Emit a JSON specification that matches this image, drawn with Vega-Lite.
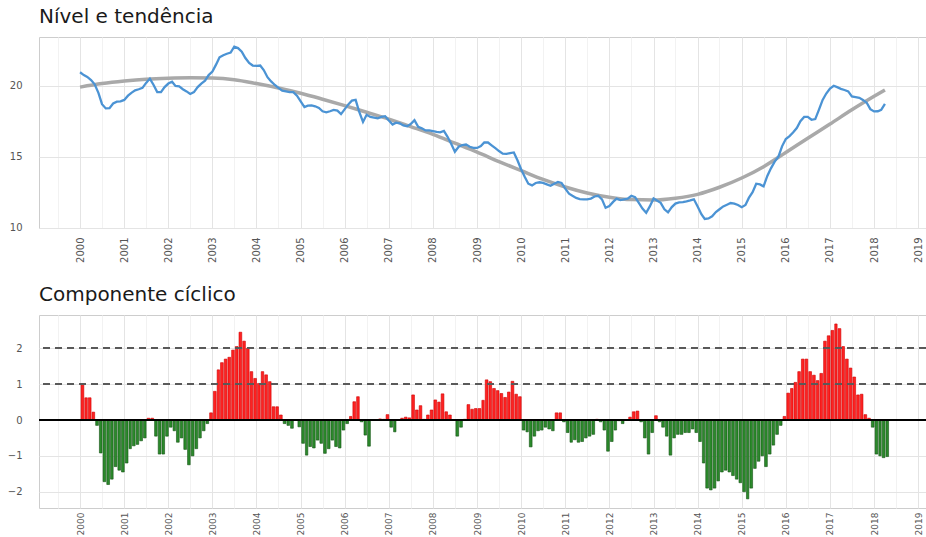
{
  "$schema": "https://vega.github.io/schema/vega-lite/v6.json",
  "background": "white",
  "autosize": {"type": "pad"},
  "padding": {"left": 6, "top": 6, "right": 0, "bottom": 0},
  "spacing": 21,
  "config": {
    "view": {"stroke": "#cdcdcd", "strokeWidth": 1},
    "font": "DejaVu Sans",
    "axis": {"domain": false, "ticks": false, "labelFont": "DejaVu Sans", "labelFontSize": 10, "labelColor": "#555555", "title": null, "gridColor": "#e4e4e4", "gridWidth": 1},
    "title": {"font": "DejaVu Sans", "fontSize": 20, "fontWeight": "normal", "color": "#1a1a1a", "anchor": "start", "frame": "group", "baseline": "alphabetic", "offset": 10}
  },
  "data": {"name": "serie", "format": {"parse": {"d": "date:'%Y-%m'"}}},
  "datasets": {
    "serie": [
      {"d":"2000-01","nivel":20.95,"ciclo":1.0},{"d":"2000-02","nivel":20.75,"ciclo":0.62},{"d":"2000-03","nivel":20.62,"ciclo":0.62},{"d":"2000-04","nivel":20.4,"ciclo":0.22},{"d":"2000-05","nivel":20.1,"ciclo":-0.15},{"d":"2000-06","nivel":19.5,"ciclo":-0.92},{"d":"2000-07","nivel":18.7,"ciclo":-1.72},{"d":"2000-08","nivel":18.4,"ciclo":-1.8},{"d":"2000-09","nivel":18.42,"ciclo":-1.65},{"d":"2000-10","nivel":18.75,"ciclo":-1.3},{"d":"2000-11","nivel":18.88,"ciclo":-1.4},{"d":"2000-12","nivel":18.9,"ciclo":-1.45},
      {"d":"2001-01","nivel":19.0,"ciclo":-1.2},{"d":"2001-02","nivel":19.3,"ciclo":-0.8},{"d":"2001-03","nivel":19.5,"ciclo":-0.72},{"d":"2001-04","nivel":19.67,"ciclo":-0.68},{"d":"2001-05","nivel":19.75,"ciclo":-0.58},{"d":"2001-06","nivel":19.85,"ciclo":-0.5},{"d":"2001-07","nivel":20.2,"ciclo":0.05},{"d":"2001-08","nivel":20.5,"ciclo":0.05},{"d":"2001-09","nivel":20.05,"ciclo":-0.45},{"d":"2001-10","nivel":19.55,"ciclo":-0.95},{"d":"2001-11","nivel":19.55,"ciclo":-0.95},{"d":"2001-12","nivel":19.9,"ciclo":-0.45},
      {"d":"2002-01","nivel":20.15,"ciclo":-0.2},{"d":"2002-02","nivel":20.28,"ciclo":-0.3},{"d":"2002-03","nivel":19.98,"ciclo":-0.62},{"d":"2002-04","nivel":19.95,"ciclo":-0.5},{"d":"2002-05","nivel":19.75,"ciclo":-0.82},{"d":"2002-06","nivel":19.6,"ciclo":-1.25},{"d":"2002-07","nivel":19.42,"ciclo":-1.0},{"d":"2002-08","nivel":19.55,"ciclo":-0.8},{"d":"2002-09","nivel":19.9,"ciclo":-0.5},{"d":"2002-10","nivel":20.15,"ciclo":-0.3},{"d":"2002-11","nivel":20.35,"ciclo":-0.1},{"d":"2002-12","nivel":20.75,"ciclo":0.2},
      {"d":"2003-01","nivel":21.0,"ciclo":0.8},{"d":"2003-02","nivel":21.5,"ciclo":1.4},{"d":"2003-03","nivel":22.0,"ciclo":1.6},{"d":"2003-04","nivel":22.15,"ciclo":1.7},{"d":"2003-05","nivel":22.25,"ciclo":1.75},{"d":"2003-06","nivel":22.33,"ciclo":1.95},{"d":"2003-07","nivel":22.75,"ciclo":2.05},{"d":"2003-08","nivel":22.65,"ciclo":2.45},{"d":"2003-09","nivel":22.4,"ciclo":2.2},{"d":"2003-10","nivel":21.95,"ciclo":2.0},{"d":"2003-11","nivel":21.6,"ciclo":1.35},{"d":"2003-12","nivel":21.42,"ciclo":1.16},
      {"d":"2004-01","nivel":21.4,"ciclo":1.02},{"d":"2004-02","nivel":21.42,"ciclo":1.35},{"d":"2004-03","nivel":21.1,"ciclo":1.26},{"d":"2004-04","nivel":20.6,"ciclo":1.07},{"d":"2004-05","nivel":20.3,"ciclo":0.37},{"d":"2004-06","nivel":20.05,"ciclo":0.37},{"d":"2004-07","nivel":19.85,"ciclo":0.14},{"d":"2004-08","nivel":19.65,"ciclo":-0.1},{"d":"2004-09","nivel":19.6,"ciclo":-0.15},{"d":"2004-10","nivel":19.55,"ciclo":-0.23},{"d":"2004-11","nivel":19.55,"ciclo":0.0},{"d":"2004-12","nivel":19.3,"ciclo":-0.19},
      {"d":"2005-01","nivel":18.9,"ciclo":-0.65},{"d":"2005-02","nivel":18.5,"ciclo":-0.98},{"d":"2005-03","nivel":18.6,"ciclo":-0.74},{"d":"2005-04","nivel":18.62,"ciclo":-0.78},{"d":"2005-05","nivel":18.55,"ciclo":-0.56},{"d":"2005-06","nivel":18.43,"ciclo":-0.65},{"d":"2005-07","nivel":18.2,"ciclo":-0.93},{"d":"2005-08","nivel":18.13,"ciclo":-0.8},{"d":"2005-09","nivel":18.2,"ciclo":-0.56},{"d":"2005-10","nivel":18.3,"ciclo":-0.74},{"d":"2005-11","nivel":18.25,"ciclo":-0.78},{"d":"2005-12","nivel":18.0,"ciclo":-0.28},
      {"d":"2006-01","nivel":18.35,"ciclo":-0.1},{"d":"2006-02","nivel":18.7,"ciclo":0.1},{"d":"2006-03","nivel":18.95,"ciclo":0.51},{"d":"2006-04","nivel":19.0,"ciclo":0.65},{"d":"2006-05","nivel":18.15,"ciclo":-0.05},{"d":"2006-06","nivel":17.45,"ciclo":-0.42},{"d":"2006-07","nivel":17.95,"ciclo":-0.73},{"d":"2006-08","nivel":17.8,"ciclo":0.0},{"d":"2006-09","nivel":17.75,"ciclo":0.0},{"d":"2006-10","nivel":17.7,"ciclo":0.03},{"d":"2006-11","nivel":17.8,"ciclo":0.02},{"d":"2006-12","nivel":17.85,"ciclo":0.15},
      {"d":"2007-01","nivel":17.55,"ciclo":-0.2},{"d":"2007-02","nivel":17.27,"ciclo":-0.33},{"d":"2007-03","nivel":17.4,"ciclo":0.0},{"d":"2007-04","nivel":17.35,"ciclo":0.05},{"d":"2007-05","nivel":17.2,"ciclo":0.08},{"d":"2007-06","nivel":17.15,"ciclo":0.06},{"d":"2007-07","nivel":17.3,"ciclo":0.7},{"d":"2007-08","nivel":17.57,"ciclo":0.28},{"d":"2007-09","nivel":17.1,"ciclo":0.4},{"d":"2007-10","nivel":17.0,"ciclo":0.02},{"d":"2007-11","nivel":16.85,"ciclo":0.14},{"d":"2007-12","nivel":16.85,"ciclo":0.28},
      {"d":"2008-01","nivel":16.8,"ciclo":0.56},{"d":"2008-02","nivel":16.75,"ciclo":0.5},{"d":"2008-03","nivel":16.72,"ciclo":0.73},{"d":"2008-04","nivel":16.82,"ciclo":0.23},{"d":"2008-05","nivel":16.4,"ciclo":0.14},{"d":"2008-06","nivel":15.9,"ciclo":0.0},{"d":"2008-07","nivel":15.35,"ciclo":-0.45},{"d":"2008-08","nivel":15.7,"ciclo":-0.2},{"d":"2008-09","nivel":15.82,"ciclo":0.02},{"d":"2008-10","nivel":15.86,"ciclo":0.43},{"d":"2008-11","nivel":15.7,"ciclo":0.3},{"d":"2008-12","nivel":15.62,"ciclo":0.32},
      {"d":"2009-01","nivel":15.62,"ciclo":0.32},{"d":"2009-02","nivel":15.75,"ciclo":0.55},{"d":"2009-03","nivel":16.0,"ciclo":1.12},{"d":"2009-04","nivel":16.0,"ciclo":1.07},{"d":"2009-05","nivel":15.8,"ciclo":0.88},{"d":"2009-06","nivel":15.6,"ciclo":0.82},{"d":"2009-07","nivel":15.4,"ciclo":0.74},{"d":"2009-08","nivel":15.22,"ciclo":0.63},{"d":"2009-09","nivel":15.2,"ciclo":0.78},{"d":"2009-10","nivel":15.25,"ciclo":1.08},{"d":"2009-11","nivel":15.3,"ciclo":0.72},{"d":"2009-12","nivel":14.75,"ciclo":0.65},
      {"d":"2010-01","nivel":14.1,"ciclo":-0.28},{"d":"2010-02","nivel":13.55,"ciclo":-0.33},{"d":"2010-03","nivel":13.1,"ciclo":-0.75},{"d":"2010-04","nivel":12.98,"ciclo":-0.45},{"d":"2010-05","nivel":13.15,"ciclo":-0.3},{"d":"2010-06","nivel":13.2,"ciclo":-0.28},{"d":"2010-07","nivel":13.15,"ciclo":-0.2},{"d":"2010-08","nivel":13.05,"ciclo":-0.25},{"d":"2010-09","nivel":12.95,"ciclo":-0.3},{"d":"2010-10","nivel":13.1,"ciclo":0.2},{"d":"2010-11","nivel":13.22,"ciclo":0.2},{"d":"2010-12","nivel":13.15,"ciclo":-0.05},
      {"d":"2011-01","nivel":12.75,"ciclo":-0.35},{"d":"2011-02","nivel":12.4,"ciclo":-0.62},{"d":"2011-03","nivel":12.25,"ciclo":-0.55},{"d":"2011-04","nivel":12.1,"ciclo":-0.62},{"d":"2011-05","nivel":12.02,"ciclo":-0.6},{"d":"2011-06","nivel":12.0,"ciclo":-0.5},{"d":"2011-07","nivel":12.0,"ciclo":-0.45},{"d":"2011-08","nivel":12.05,"ciclo":-0.4},{"d":"2011-09","nivel":12.2,"ciclo":0.02},{"d":"2011-10","nivel":12.25,"ciclo":-0.05},{"d":"2011-11","nivel":12.0,"ciclo":-0.28},{"d":"2011-12","nivel":11.4,"ciclo":-0.87},
      {"d":"2012-01","nivel":11.52,"ciclo":-0.6},{"d":"2012-02","nivel":11.82,"ciclo":-0.28},{"d":"2012-03","nivel":12.05,"ciclo":-0.02},{"d":"2012-04","nivel":11.95,"ciclo":-0.1},{"d":"2012-05","nivel":12.0,"ciclo":0.0},{"d":"2012-06","nivel":12.05,"ciclo":0.08},{"d":"2012-07","nivel":12.25,"ciclo":0.23},{"d":"2012-08","nivel":12.15,"ciclo":0.25},{"d":"2012-09","nivel":11.75,"ciclo":-0.05},{"d":"2012-10","nivel":11.35,"ciclo":-0.5},{"d":"2012-11","nivel":11.05,"ciclo":-0.95},{"d":"2012-12","nivel":11.5,"ciclo":-0.35},
      {"d":"2013-01","nivel":12.06,"ciclo":0.12},{"d":"2013-02","nivel":11.9,"ciclo":-0.05},{"d":"2013-03","nivel":11.75,"ciclo":-0.2},{"d":"2013-04","nivel":11.3,"ciclo":-0.45},{"d":"2013-05","nivel":11.08,"ciclo":-0.98},{"d":"2013-06","nivel":11.45,"ciclo":-0.5},{"d":"2013-07","nivel":11.7,"ciclo":-0.4},{"d":"2013-08","nivel":11.78,"ciclo":-0.4},{"d":"2013-09","nivel":11.8,"ciclo":-0.35},{"d":"2013-10","nivel":11.85,"ciclo":-0.35},{"d":"2013-11","nivel":11.92,"ciclo":-0.25},{"d":"2013-12","nivel":12.0,"ciclo":-0.35},
      {"d":"2014-01","nivel":11.5,"ciclo":-0.6},{"d":"2014-02","nivel":10.95,"ciclo":-1.2},{"d":"2014-03","nivel":10.62,"ciclo":-1.9},{"d":"2014-04","nivel":10.65,"ciclo":-1.95},{"d":"2014-05","nivel":10.8,"ciclo":-1.9},{"d":"2014-06","nivel":11.1,"ciclo":-1.7},{"d":"2014-07","nivel":11.3,"ciclo":-1.45},{"d":"2014-08","nivel":11.5,"ciclo":-1.4},{"d":"2014-09","nivel":11.62,"ciclo":-1.45},{"d":"2014-10","nivel":11.74,"ciclo":-1.55},{"d":"2014-11","nivel":11.7,"ciclo":-1.65},{"d":"2014-12","nivel":11.6,"ciclo":-1.75},
      {"d":"2015-01","nivel":11.45,"ciclo":-2.0},{"d":"2015-02","nivel":11.6,"ciclo":-2.2},{"d":"2015-03","nivel":12.1,"ciclo":-1.9},{"d":"2015-04","nivel":12.5,"ciclo":-1.35},{"d":"2015-05","nivel":13.1,"ciclo":-1.15},{"d":"2015-06","nivel":13.05,"ciclo":-1.0},{"d":"2015-07","nivel":12.91,"ciclo":-1.3},{"d":"2015-08","nivel":13.65,"ciclo":-0.95},{"d":"2015-09","nivel":14.2,"ciclo":-0.7},{"d":"2015-10","nivel":14.65,"ciclo":-0.4},{"d":"2015-11","nivel":15.0,"ciclo":-0.15},{"d":"2015-12","nivel":15.73,"ciclo":0.1},
      {"d":"2016-01","nivel":16.25,"ciclo":0.75},{"d":"2016-02","nivel":16.45,"ciclo":0.88},{"d":"2016-03","nivel":16.7,"ciclo":1.05},{"d":"2016-04","nivel":17.02,"ciclo":1.35},{"d":"2016-05","nivel":17.5,"ciclo":1.7},{"d":"2016-06","nivel":17.8,"ciclo":1.7},{"d":"2016-07","nivel":17.8,"ciclo":1.35},{"d":"2016-08","nivel":17.6,"ciclo":1.25},{"d":"2016-09","nivel":17.65,"ciclo":1.1},{"d":"2016-10","nivel":18.3,"ciclo":1.3},{"d":"2016-11","nivel":19.0,"ciclo":2.2},{"d":"2016-12","nivel":19.45,"ciclo":2.35},
      {"d":"2017-01","nivel":19.8,"ciclo":2.5},{"d":"2017-02","nivel":20.0,"ciclo":2.68},{"d":"2017-03","nivel":19.9,"ciclo":2.55},{"d":"2017-04","nivel":19.78,"ciclo":2.05},{"d":"2017-05","nivel":19.7,"ciclo":1.7},{"d":"2017-06","nivel":19.6,"ciclo":1.45},{"d":"2017-07","nivel":19.25,"ciclo":1.2},{"d":"2017-08","nivel":19.2,"ciclo":0.7},{"d":"2017-09","nivel":19.15,"ciclo":0.72},{"d":"2017-10","nivel":19.0,"ciclo":0.15},{"d":"2017-11","nivel":18.8,"ciclo":0.05},{"d":"2017-12","nivel":18.35,"ciclo":-0.2},
      {"d":"2018-01","nivel":18.19,"ciclo":-0.95},{"d":"2018-02","nivel":18.2,"ciclo":-1.0},{"d":"2018-03","nivel":18.3,"ciclo":-1.05},{"d":"2018-04","nivel":18.72,"ciclo":-1.02}
    ],
    "tend": [
      {"mes":"2000-01","tendencia":19.9},{"mes":"2000-07","tendencia":20.15},{"mes":"2001-01","tendencia":20.33},{"mes":"2001-07","tendencia":20.46},{"mes":"2002-01","tendencia":20.53},{"mes":"2002-07","tendencia":20.56},{"mes":"2003-01","tendencia":20.54},{"mes":"2003-07","tendencia":20.42},{"mes":"2004-01","tendencia":20.15},{"mes":"2004-07","tendencia":19.84},{"mes":"2005-01","tendencia":19.47},{"mes":"2005-07","tendencia":19.05},{"mes":"2006-01","tendencia":18.6},{"mes":"2006-07","tendencia":18.13},{"mes":"2007-01","tendencia":17.65},{"mes":"2007-07","tendencia":17.12},{"mes":"2008-01","tendencia":16.57},{"mes":"2008-07","tendencia":15.95},{"mes":"2009-01","tendencia":15.32},{"mes":"2009-07","tendencia":14.66},{"mes":"2010-01","tendencia":14.02},{"mes":"2010-07","tendencia":13.4},{"mes":"2011-01","tendencia":12.87},{"mes":"2011-07","tendencia":12.45},{"mes":"2012-01","tendencia":12.15},{"mes":"2012-07","tendencia":11.98},{"mes":"2013-01","tendencia":11.95},{"mes":"2013-07","tendencia":12.08},{"mes":"2014-01","tendencia":12.35},{"mes":"2014-07","tendencia":12.85},{"mes":"2015-01","tendencia":13.5},{"mes":"2015-07","tendencia":14.3},{"mes":"2016-01","tendencia":15.3},{"mes":"2016-07","tendencia":16.3},{"mes":"2017-01","tendencia":17.3},{"mes":"2017-07","tendencia":18.3},{"mes":"2018-01","tendencia":19.25},{"mes":"2018-04","tendencia":19.7}
    ]
  },
  "vconcat": [
    {
      "title": "Nível e tendência",
      "width": 887,
      "height": 191,
      "layer": [
        {
          "data": {"name": "tend", "format": {"parse": {"mes": "date:'%Y-%m'"}}},
          "mark": {"type": "line", "color": "#a9a9a9", "strokeWidth": 3.5, "interpolate": "monotone"},
          "encoding": {
            "x": {
              "field": "mes", "type": "temporal",
              "scale": {"domain": [{"year": 1999, "month": 1, "date": 26}, {"year": 2019, "month": 3, "date": 7}]},
              "axis": {"tickCount": {"interval": "month", "step": 6}, "labelExpr": "month(datum.value) == 0 ? timeFormat(datum.value, '%Y') : ''", "labelAngle": 270, "labelOverlap": false, "labelPadding": 9, "labelFlush": false, "labelBound": false, "gridColor": {"condition": {"test": "month(datum.value) != 0", "value": "#f2f2f2"}, "value": "#e4e4e4"}}
            },
            "y": {
              "field": "tendencia", "type": "quantitative",
              "scale": {"domain": [9.98, 23.43], "nice": false, "zero": false},
              "axis": {"values": [10, 12.5, 15, 17.5, 20, 22.5], "labelExpr": "datum.value % 5 == 0 ? datum.label : ''", "labelPadding": 17, "gridColor": {"condition": {"test": "datum.value % 5 != 0", "value": "#f2f2f2"}, "value": "#e4e4e4"}}
            }
          }
        },
        {
          "mark": {"type": "line", "color": "#4b93d4", "strokeWidth": 2.3},
          "encoding": {
            "x": {"field": "d", "type": "temporal"},
            "y": {"field": "nivel", "type": "quantitative"}
          }
        }
      ]
    },
    {
      "title": "Componente cíclico",
      "width": 887,
      "height": 193,
      "layer": [
        {
          "mark": {"type": "bar", "strokeWidth": 0.6},
          "encoding": {
            "x": {
              "field": "d", "timeUnit": "yearmonth", "type": "temporal",
              "scale": {"domain": [{"year": 1999, "month": 1, "date": 26}, {"year": 2019, "month": 3, "date": 7}]},
              "axis": {"tickCount": {"interval": "month", "step": 6}, "labelExpr": "month(datum.value) == 0 ? timeFormat(datum.value, '%Y') : ''", "labelAngle": 270, "labelOverlap": false, "labelPadding": 4, "labelFontSize": 9, "labelFlush": false, "labelBound": false, "gridColor": {"condition": {"test": "month(datum.value) != 0", "value": "#f2f2f2"}, "value": "#e4e4e4"}}
            },
            "y": {
              "field": "ciclo", "type": "quantitative",
              "scale": {"domain": [-2.455, 2.93], "nice": false, "zero": false},
              "axis": {"values": [-2, -1.5, -1, -0.5, 0, 0.5, 1, 1.5, 2, 2.5], "labelExpr": "datum.value % 1 == 0 ? datum.label : ''", "labelPadding": 17, "gridColor": {"condition": {"test": "datum.value % 1 != 0", "value": "#f2f2f2"}, "value": "#e4e4e4"}}
            },
            "fill": {"condition": {"test": "datum.ciclo >= 0", "value": "#fe2222"}, "value": "#2b8a2b"},
            "stroke": {"condition": {"test": "datum.ciclo >= 0", "value": "#d00000"}, "value": "#145214"}
          }
        },
        {"mark": {"type": "rule", "color": "#5a5a5a", "strokeDash": [7, 5], "strokeWidth": 1.3}, "encoding": {"y": {"datum": 1}}},
        {"mark": {"type": "rule", "color": "#5a5a5a", "strokeDash": [7, 5], "strokeWidth": 1.3}, "encoding": {"y": {"datum": 2}}},
        {"mark": {"type": "rule", "color": "#000000", "strokeWidth": 2}, "encoding": {"y": {"datum": 0}}}
      ]
    }
  ]
}
